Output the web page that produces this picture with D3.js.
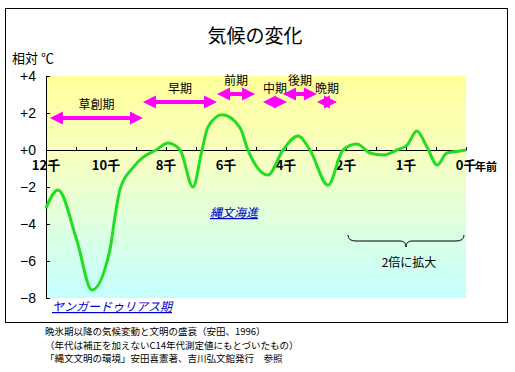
<!DOCTYPE html>
<html>
<head>
<meta charset="utf-8">
<script src="https://cdn.jsdelivr.net/npm/d3@7"></script>
<style>
  body { margin: 0; background: #fff; }
  svg text { font-family: "Noto Sans CJK JP", "Liberation Sans", sans-serif; }
</style>
</head>
<body>
<div id="chart"></div>
<script>
'use strict';

// 千年前 / 相対気温
const years = [12.0, 11.6, 10.97, 10.47, 9.87, 9.7, 9.53, 9.1, 8.77, 8.33, 7.93, 7.53, 7.1, 6.8, 6.6, 6.13,
  5.53, 5.27, 4.6, 4.1, 3.6, 3.2, 2.6, 2.1, 1.82, 1.6, 1.38, 1.15, 0.98, 0.82, 0.65, 0.48, 0.32, 0.1, 0];
const temps = [-3.14, -2.16, -4.9, -7.57, -5.4, -3.6, -2.1, -0.95, -0.4, 0, 0.38, 0, -2.0, 0, 1.24, 1.9,
  1.2, 0, -1.35, 0, 0.76, 0, -1.9, 0, 0.32, -0.16, -0.27, 0, 0.27, 1.03, 0.16, -0.81, -0.16, -0.05, 0];

// 縄文時代の区分
const periodNames = ["草創期", "早期", "前期", "中期", "後期", "晩期"];
const periodFrom  = [11.87, 8.77, 6.3, 4.77, 4.1, 2.97];
const periodTo    = [8.77, 6.3, 5.03, 3.97, 2.97, 2.3];
const periodRow   = [0, 1, 2, 1, 2, 1];

const xTicks = [12, 11, 10, 9, 8, 7, 6, 5, 4, 3, 2, 1.5, 1, 0.5, 0];
const xLabels = [12, 10, 8, 6, 4, 2, 1, 0];
const yTicks = [4, 2, 0, -2, -4, -6, -8];

const notes = [
  "晩氷期以降の気候変動と文明の盛衰（安田、1996）",
  "（年代は補正を加えないC14年代測定値にもとづいたもの）",
  "「縄文文明の環境」安田喜憲著、吉川弘文館発行　参照"
];

const width = 515, height = 372;
const svg = d3.select("#chart").append("svg")
  .attr("width", width)
  .attr("height", height);

// 2千年前以降は2倍に拡大
const x = d3.scaleLinear().domain([12, 2, 0]).range([46, 346, 466]);
const y = d3.scaleLinear().domain([-8, 4]).range([298, 76]);
const rowY = [118, 102, 94];

svg.append("rect")
  .attr("x", 5.5).attr("y", 8.5)
  .attr("width", 502).attr("height", 314)
  .attr("fill", "none").attr("stroke", "#000");

const grad = svg.append("defs").append("linearGradient")
  .attr("id", "bg").attr("x1", 0).attr("y1", 0).attr("x2", 0).attr("y2", 1);
grad.append("stop").attr("offset", "0%").attr("stop-color", "#ffff99");
grad.append("stop").attr("offset", "35%").attr("stop-color", "#f8ffc0");
grad.append("stop").attr("offset", "100%").attr("stop-color", "#c4ffff");

svg.append("rect")
  .attr("x", x(12)).attr("y", y(4))
  .attr("width", x(0) - x(12)).attr("height", y(-8) - y(4))
  .attr("fill", "url(#bg)");

svg.append("text")
  .attr("x", 255).attr("y", 43)
  .attr("text-anchor", "middle")
  .style("font-size", "19px")
  .text("気候の変化");

svg.append("text")
  .attr("x", 12).attr("y", 63)
  .style("font-size", "13px")
  .text("相対 ℃");

// y axis
const yAxis = svg.append("g")
  .attr("transform", `translate(${x(12)},0)`)
  .call(d3.axisLeft(y).tickValues(yTicks).tickSizeInner(-4).tickSizeOuter(0).tickPadding(10)
    .tickFormat(d => d > 0 ? "+" + d : d === 0 ? "+0" : "\u2212" + Math.abs(d)));
yAxis.select(".domain").attr("stroke", "#000");
yAxis.selectAll("text")
  .style("font-family", "'Liberation Sans', Arial, sans-serif")
  .style("font-size", "14px").attr("fill", "#000");

// x axis on the zero line
const xAxis = svg.append("g")
  .attr("transform", `translate(0,${y(0)})`)
  .call(d3.axisBottom(x).tickValues(xTicks).tickSizeInner(-3).tickSizeOuter(0).tickFormat(""));
xAxis.select(".domain").attr("stroke", "#000");

svg.selectAll(".xlab")
  .data(xLabels)
  .enter().append("text")
  .attr("class", "xlab")
  .attr("x", d => x(d))
  .attr("y", y(0) + 20)
  .attr("text-anchor", "middle")
  .style("font-size", "13px")
  .style("font-weight", "bold")
  .text(d => d + "千");

svg.append("text")
  .attr("x", 475).attr("y", y(0) + 21)
  .style("font-size", "11px")
  .style("font-weight", "bold")
  .text("年前");

// periods
const arrow = function(x1, x2, yy) {
  const hl = 13, hh = 6.5, sh = 2;
  return `M${x1},${yy} L${x1 + hl},${yy - hh} L${x1 + hl},${yy - sh} L${x2 - hl},${yy - sh} L${x2 - hl},${yy - hh}` +
    ` L${x2},${yy} L${x2 - hl},${yy + hh} L${x2 - hl},${yy + sh} L${x1 + hl},${yy + sh} L${x1 + hl},${yy + hh} Z`;
};

const periods = svg.append("g").selectAll("g")
  .data(periodNames)
  .enter().append("g");

periods.append("path")
  .attr("d", (d, i) => arrow(x(periodFrom[i]), x(periodTo[i]), rowY[periodRow[i]]))
  .attr("fill", "#ff00ff");

periods.append("text")
  .attr("x", (d, i) => (x(periodFrom[i]) + x(periodTo[i])) / 2)
  .attr("y", (d, i) => rowY[periodRow[i]] - 9)
  .attr("text-anchor", "middle")
  .style("font-size", "12px")
  .text(d => d);

// temperature line
const line = d3.line()
  .x((d, i) => x(years[i]))
  .y(d => y(d))
  .curve(d3.curveMonotoneX);

svg.append("path")
  .datum(temps)
  .attr("d", line)
  .attr("fill", "none")
  .attr("stroke", "#22dd22")
  .attr("stroke-width", 3);

// notes in the plot
svg.append("text")
  .attr("x", 210).attr("y", 217)
  .attr("fill", "#0000cc")
  .attr("text-decoration", "underline")
  .style("font-size", "12px")
  .style("font-style", "italic")
  .text("縄文海進");

svg.append("text")
  .attr("x", 52).attr("y", 311)
  .attr("fill", "#0000cc")
  .attr("text-decoration", "underline")
  .style("font-size", "12px")
  .style("font-style", "italic")
  .text("ヤンガードゥリアス期");

const bx1 = x(2) + 2, bx2 = x(0) - 2, bm = x(1), by = 235;
svg.append("path")
  .attr("d", `M${bx1},${by} Q${bx1},${by + 6} ${bx1 + 8},${by + 6} L${bm - 6},${by + 6} Q${bm},${by + 6} ${bm},${by + 12}` +
    ` Q${bm},${by + 6} ${bm + 6},${by + 6} L${bx2 - 8},${by + 6} Q${bx2},${by + 6} ${bx2},${by}`)
  .attr("fill", "none")
  .attr("stroke", "#000");

svg.append("text")
  .attr("x", bm + 3).attr("y", 267)
  .attr("text-anchor", "middle")
  .style("font-size", "12px")
  .text("2倍に拡大");

svg.selectAll(".note")
  .data(notes)
  .enter().append("text")
  .attr("class", "note")
  .attr("x", 45)
  .attr("y", (d, i) => 335 + i * 13.5)
  .style("font-size", "9.5px")
  .text(d => d);
</script>
</body>
</html>
